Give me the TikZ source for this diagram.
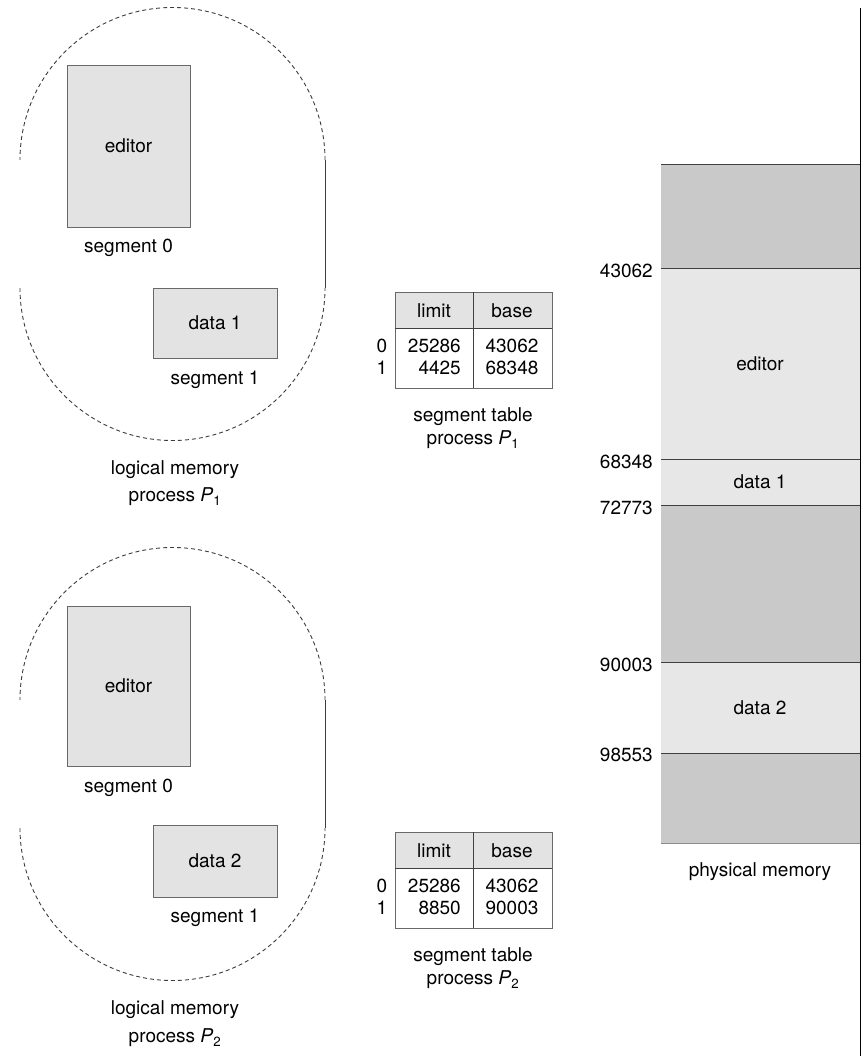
\documentclass[tikz,border=0pt]{standalone}
\usepackage{fontspec}
\setmainfont{TeX Gyre Heros}
\usepackage{tikz}
\usetikzlibrary{positioning}
\definecolor{segfill}{RGB}{227,227,227}
\definecolor{segline}{RGB}{105,105,105}
\definecolor{freegray}{RGB}{201,201,201}
\definecolor{usedgray}{RGB}{231,231,231}
\definecolor{ovalline}{RGB}{60,60,60}
\newcommand{\procname}[1]{process \textit{P}\textsubscript{#1}}
\tikzset{
  lbl/.style={font=\fontsize{19}{23}\selectfont,inner sep=0pt,align=center},
  segbox/.style={draw=segline,fill=segfill,line width=0.9pt,inner sep=0pt,font=\fontsize{19}{23}\selectfont},
  oval/.style={draw=ovalline,line width=0.9pt,dash pattern=on 4pt off 3pt},
  ovalside/.style={draw=ovalline,line width=0.9pt},
  tabline/.style={draw=segline,line width=0.8pt},
  memline/.style={draw=black!75,line width=1pt},
}
\begin{document}
\begin{tikzpicture}[x=1pt,y=1pt]
  \useasboundingbox (0,0) rectangle (866,-1056);
  % logical memory, process P1
  \draw[oval] (325,-160) arc[start angle=0,end angle=180,radius=152.5pt];
  \draw[oval] (20,-288) arc[start angle=180,end angle=360,radius=152.5pt];
  \draw[ovalside] (325,-160) -- (325,-288);
  \node[segbox,minimum width=123pt,minimum height=162pt] (edA) at (128.5,-146) {editor};
  \node[lbl] (segA0) at (128.5,-248) {segment 0};
  \node[segbox,minimum width=124pt,minimum height=70pt] (dtA) at (215,-323) {data 1};
  \node[lbl] (segA1) at (215,-380) {segment 1};
  \node[lbl] (logA) at (175,-470) {logical memory};
  \node[lbl] (prcA) at (175,-497) {\procname{1}};
  % logical memory, process P2
  \draw[oval] (325,-700) arc[start angle=0,end angle=180,radius=152.5pt];
  \draw[oval] (20,-828) arc[start angle=180,end angle=360,radius=152.5pt];
  \draw[ovalside] (325,-700) -- (325,-828);
  \node[segbox,minimum width=123pt,minimum height=160pt] (edB) at (128.5,-686) {editor};
  \node[lbl] (segB0) at (128.5,-788) {segment 0};
  \node[segbox,minimum width=124pt,minimum height=72pt] (dtB) at (215,-861) {data 2};
  \node[lbl] (segB1) at (215,-918) {segment 1};
  \node[lbl] (logB) at (175,-1010) {logical memory};
  \node[lbl] (prcB) at (175,-1038) {\procname{2}};
  % segment table P1
  \fill[segfill] (395,-292) rectangle (552,-328);
  \draw[tabline] (395,-292) rectangle (552,-388);
  \draw[memline] (395,-328) -- (552,-328);
  \draw[memline] (473,-292) -- (473,-388);
  \node[lbl] (limA) at (434,-311) {limit};
  \node[lbl] (basA) at (512,-311) {base};
  \node[lbl] (rA0) at (382,-346) {0};
  \node[lbl] (rA1) at (382,-368) {1};
  \node[lbl,anchor=east] (lA0) at (461,-346) {25286};
  \node[lbl,anchor=east] (lA1) at (461,-368) {4425};
  \node[lbl] (bA0) at (512,-346) {43062};
  \node[lbl] (bA1) at (512,-368) {68348};
  \node[lbl] (tabA) at (473,-417) {segment table};
  \node[lbl] (tprA) at (473,-440) {\procname{1}};
  % segment table P2
  \fill[segfill] (395,-832) rectangle (552,-868);
  \draw[tabline] (395,-832) rectangle (552,-928);
  \draw[memline] (395,-868) -- (552,-868);
  \draw[memline] (473,-832) -- (473,-928);
  \node[lbl] (limB) at (434,-851) {limit};
  \node[lbl] (basB) at (512,-851) {base};
  \node[lbl] (rB0) at (382,-886) {0};
  \node[lbl] (rB1) at (382,-908) {1};
  \node[lbl,anchor=east] (lB0) at (461,-886) {25286};
  \node[lbl,anchor=east] (lB1) at (461,-908) {8850};
  \node[lbl] (bB0) at (512,-886) {43062};
  \node[lbl] (bB1) at (512,-908) {90003};
  \node[lbl] (tabB) at (473,-957) {segment table};
  \node[lbl] (tprB) at (473,-980) {\procname{2}};
  % physical memory
  \fill[freegray] (661,-165) rectangle (860,-269);
  \fill[usedgray] (661,-269) rectangle (860,-459);
  \fill[usedgray] (661,-459) rectangle (860,-505);
  \fill[freegray] (661,-505) rectangle (860,-662);
  \fill[usedgray] (661,-662) rectangle (860,-753);
  \fill[freegray] (661,-753) rectangle (860,-843);
  \draw[memline] (661,-165) -- (860,-165);
  \draw[memline] (661,-269) -- (860,-269);
  \draw[memline] (661,-459) -- (860,-459);
  \draw[memline] (661,-505) -- (860,-505);
  \draw[memline] (661,-662) -- (860,-662);
  \draw[memline] (661,-753) -- (860,-753);
  \draw[draw=black!45,line width=0.8pt] (661,-843) -- (860,-843);
  \draw[draw=black,line width=1.6pt] (860.5,-8) -- (860.5,-1056);
  \node[lbl] (pmEd) at (760,-364) {editor};
  \node[lbl] (pmD1) at (760,-482) {data 1};
  \node[lbl] (pmD2) at (760,-708) {data 2};
  \node[lbl,anchor=east] (a43062) at (653,-271) {43062};
  \node[lbl,anchor=east] (a68348) at (653,-462) {68348};
  \node[lbl,anchor=east] (a72773) at (653,-508) {72773};
  \node[lbl,anchor=east] (a90003) at (653,-665) {90003};
  \node[lbl,anchor=east] (a98553) at (653,-755) {98553};
  \node[lbl] (pmLbl) at (760,-872) {physical memory};
\end{tikzpicture}
\end{document}
